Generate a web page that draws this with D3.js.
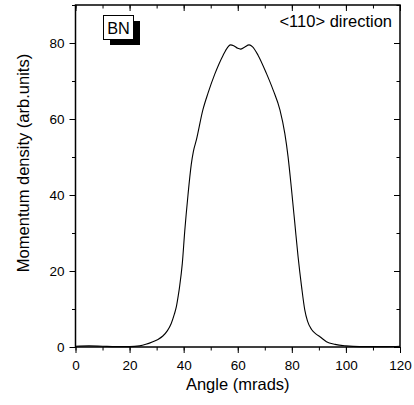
<!DOCTYPE html>
<html><head><meta charset="utf-8">
<script src="https://cdn.jsdelivr.net/npm/d3@7"></script>
<style>body{margin:0;background:#fff}svg{display:block}text{font-family:"Liberation Sans",Arial,sans-serif}</style>
</head><body><svg id="c" width="414" height="405"></svg>
<script>
const angle = [0,5,10,15,20,23.7,26,28.6,30.5,32.3,34,35.4,36.5,37.3,38,38.5,39.5,40.4,41.6,42.8,43.6,44.7,47.1,49,51.5,54.6,56.2,57.3,58.5,60,61,62.5,64.2,65.5,67.5,70.6,73.1,75.6,77.4,78.6,79.9,81.1,82.3,83.6,84.8,85.8,87.3,89,90.4,92.8,96,100,105,110,115,120];
const density = [0.2,0.3,0.2,0.1,0.1,0.3,0.7,1.4,2.0,2.9,4.3,6.2,8.5,10.6,13.5,15.9,22,30.5,40,48,51.5,54.5,62.4,66.8,71.8,76.8,78.8,79.5,79.3,78.6,78.4,78.9,79.5,79,76.8,72,67.6,62.4,56.2,50.1,41.3,32.6,23.8,15.9,9.7,6.8,4.6,3.4,2.7,1.4,0.7,0.3,0.1,0.1,0.1,0.2];
const xTicks = [0,20,40,60,80,100,120];
const yTicks = [0,20,40,60,80];
const xLabel = "Angle (mrads)";
const yLabel = "Momentum density (arb.units)";
const tag = "BN";
const note = "<110> direction";

const svg = d3.select("#c");
const L=75.5,R=400,T=5,B=347;
const x = d3.scaleLinear().domain([0,120]).range([L,R]);
const y = d3.scaleLinear().domain([0,90]).range([B,T]);
const minorX = d3.range(0,121,10), minorY = d3.range(0,91,10);

function style(g){g.select(".domain").remove();g.selectAll("line").attr("stroke","#000");g.selectAll("text").attr("font-size",13.5).attr("fill","#000");}
// bottom
svg.append("g").attr("transform",`translate(0,${B})`).call(d3.axisBottom(x).tickValues(minorX).tickSize(3.5).tickFormat("")).call(style);
svg.append("g").attr("transform",`translate(0,${B})`).call(d3.axisBottom(x).tickValues(xTicks).tickSize(6).tickPadding(7)).call(style);
// left
svg.append("g").attr("transform",`translate(${L},0)`).call(d3.axisLeft(y).tickValues(minorY).tickSize(3.5).tickFormat("")).call(style);
svg.append("g").attr("transform",`translate(${L},0)`).call(d3.axisLeft(y).tickValues(yTicks).tickSize(6).tickPadding(5)).call(style);
// top (inward)
svg.append("g").attr("transform",`translate(0,${T})`).call(d3.axisBottom(x).tickValues(minorX).tickSize(3.5).tickFormat("")).call(style);
svg.append("g").attr("transform",`translate(0,${T})`).call(d3.axisBottom(x).tickValues(xTicks).tickSize(6).tickFormat("")).call(style);
// right (inward)
svg.append("g").attr("transform",`translate(${R},0)`).call(d3.axisLeft(y).tickValues(minorY).tickSize(3.5).tickFormat("")).call(style);
svg.append("g").attr("transform",`translate(${R},0)`).call(d3.axisLeft(y).tickValues(yTicks).tickSize(6).tickFormat("")).call(style);

svg.append("rect").attr("x",L).attr("y",T).attr("width",R-L).attr("height",B-T).attr("fill","none").attr("stroke","#000").attr("stroke-width",1.5);

const data = angle.map((a,i)=>[a,density[i]]);
svg.append("path").datum(data).attr("fill","none").attr("stroke","#000").attr("stroke-width",1.1)
  .attr("d",d3.line().x(d=>x(d[0])).y(d=>y(d[1])).curve(d3.curveMonotoneX));

// BN label with shadow
svg.append("rect").attr("x",110).attr("y",21).attr("width",30).attr("height",24).attr("fill","#000");
svg.append("rect").attr("x",103.5).attr("y",15.5).attr("width",30).attr("height",24).attr("fill","#fff").attr("stroke","#000").attr("stroke-width",1);
svg.append("text").attr("x",118.5).attr("y",33.5).attr("text-anchor","middle").attr("font-size",16.3).text(tag);

svg.append("text").attr("x",392).attr("y",27).attr("text-anchor","end").attr("font-size",16.5).text(note);

svg.append("text").attr("x",(L+R)/2).attr("y",390).attr("text-anchor","middle").attr("font-size",16.5).text(xLabel);
svg.append("text").attr("transform",`translate(29,163) rotate(-90)`).attr("text-anchor","middle").attr("font-size",16.5).text(yLabel);
</script></body></html>
